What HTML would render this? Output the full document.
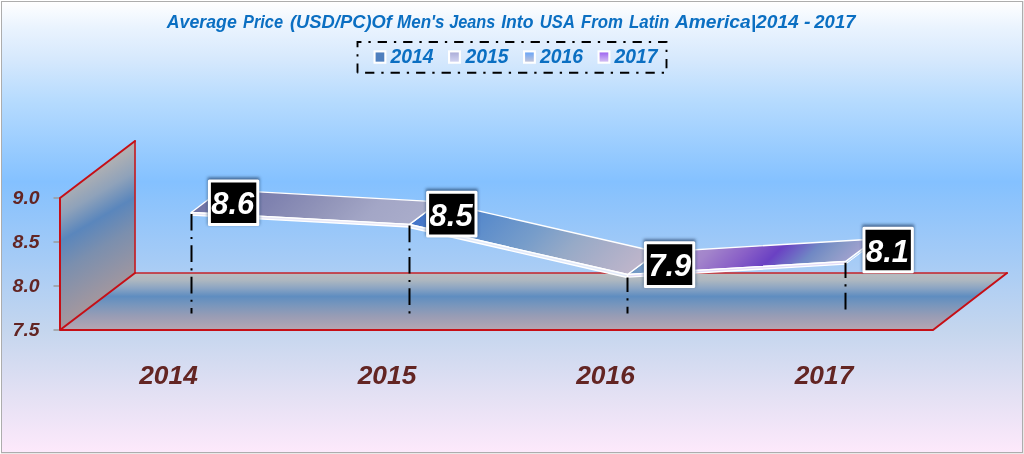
<!DOCTYPE html>
<html>
<head>
<meta charset="utf-8">
<title>Average Price (USD/PC) Of Men's Jeans Into USA From Latin America | 2014 - 2017</title>
<style>
  html, body { margin: 0; padding: 0; background: #ffffff; }
  body { width: 1024px; height: 454px; overflow: hidden; font-family: "Liberation Sans", sans-serif; }
  svg { display: block; }
  text { font-family: "Liberation Sans", sans-serif; font-weight: bold; font-style: italic; opacity: 0.999; }
</style>
</head>
<body>
<svg width="1024" height="454" viewBox="0 0 1024 454">
  <defs>
    <linearGradient id="bg" x1="0" y1="0" x2="0" y2="1">
      <stop offset="0" stop-color="#ffffff"/>
      <stop offset="0.06" stop-color="#e9f3fe"/>
      <stop offset="0.125" stop-color="#d7e9fd"/>
      <stop offset="0.22" stop-color="#b6dbfe"/>
      <stop offset="0.40" stop-color="#84c1ff"/>
      <stop offset="0.44" stop-color="#8cc3fc"/>
      <stop offset="0.57" stop-color="#a5cbf6"/>
      <stop offset="0.73" stop-color="#c5d6ee"/>
      <stop offset="0.88" stop-color="#e5e1f4"/>
      <stop offset="1" stop-color="#fde9fb"/>
    </linearGradient>
    <linearGradient id="floor" x1="0" y1="273" x2="0" y2="330" gradientUnits="userSpaceOnUse">
      <stop offset="0" stop-color="#babdc0"/>
      <stop offset="0.13" stop-color="#adb7c0"/>
      <stop offset="0.27" stop-color="#8aa4c3"/>
      <stop offset="0.41" stop-color="#5f8dc0"/>
      <stop offset="0.56" stop-color="#7896bc"/>
      <stop offset="0.75" stop-color="#979cb5"/>
      <stop offset="1" stop-color="#b6a6b2"/>
    </linearGradient>
    <linearGradient id="wall" x1="46.7" y1="149" x2="148.3" y2="322" gradientUnits="userSpaceOnUse">
      <stop offset="0" stop-color="#b1b1b3"/>
      <stop offset="0.21" stop-color="#afb0b3"/>
      <stop offset="0.32" stop-color="#8fa2ba"/>
      <stop offset="0.43" stop-color="#5a86bc"/>
      <stop offset="0.56" stop-color="#7b8fae"/>
      <stop offset="0.78" stop-color="#a2979f"/>
      <stop offset="1" stop-color="#b4a3a8"/>
    </linearGradient>
    <linearGradient id="r1" x1="191" y1="212" x2="310.5" y2="331.5" gradientUnits="userSpaceOnUse">
      <stop offset="0" stop-color="#7073a5"/>
      <stop offset="0.3" stop-color="#8083b0"/>
      <stop offset="0.55" stop-color="#9396ba"/>
      <stop offset="0.75" stop-color="#a3a6c6"/>
      <stop offset="1" stop-color="#aaadcb"/>
    </linearGradient>
    <linearGradient id="r2" x1="410" y1="224" x2="547.5" y2="361.5" gradientUnits="userSpaceOnUse">
      <stop offset="0" stop-color="#4273c8"/>
      <stop offset="0.26" stop-color="#5b8ccb"/>
      <stop offset="0.49" stop-color="#779dca"/>
      <stop offset="0.67" stop-color="#97aac7"/>
      <stop offset="0.80" stop-color="#a8aec8"/>
      <stop offset="1" stop-color="#c0b6cb"/>
    </linearGradient>
    <linearGradient id="r3" x1="627" y1="274.5" x2="733.25" y2="380.75" gradientUnits="userSpaceOnUse">
      <stop offset="0" stop-color="#6f96c3"/>
      <stop offset="0.07" stop-color="#7b9ec9"/>
      <stop offset="0.16" stop-color="#a98fcc"/>
      <stop offset="0.275" stop-color="#a385cb"/>
      <stop offset="0.45" stop-color="#8a60c7"/>
      <stop offset="0.60" stop-color="#6a41c3"/>
      <stop offset="0.68" stop-color="#6d62c4"/>
      <stop offset="0.77" stop-color="#7088c4"/>
      <stop offset="0.86" stop-color="#8497c6"/>
      <stop offset="1" stop-color="#a5a3d0"/>
    </linearGradient>
    <linearGradient id="lg2" x1="0" y1="0" x2="0" y2="1">
      <stop offset="0" stop-color="#a9aad6"/>
      <stop offset="1" stop-color="#d5d7f3"/>
    </linearGradient>
    <linearGradient id="lg3" x1="0" y1="0" x2="0" y2="1">
      <stop offset="0" stop-color="#62a3fb"/>
      <stop offset="1" stop-color="#c9c6d6"/>
    </linearGradient>
    <linearGradient id="lg4" x1="0" y1="0" x2="0" y2="1">
      <stop offset="0" stop-color="#9a5cf0"/>
      <stop offset="1" stop-color="#d9c9f3"/>
    </linearGradient>
    <filter id="glow" x="-20%" y="-20%" width="140%" height="140%">
      <feGaussianBlur stdDeviation="1.6"/>
    </filter>
  </defs>

  <!-- chart area background + border -->
  <rect x="0" y="0" width="1024" height="454" fill="#ffffff"/>
  <rect x="1023" y="1" width="1" height="453" fill="#e9e9e9"/>
  <rect x="1" y="453" width="1023" height="1" fill="#e9e9e9"/>
  <rect x="1.5" y="1.5" width="1021" height="451" fill="url(#bg)" stroke="#adadad" stroke-width="1"/>

  <!-- title -->
  <g id="title" font-size="18.3" fill="#0b6fc2">
    <text x="166.8" y="27.6" textLength="70" lengthAdjust="spacingAndGlyphs">Average</text>
    <text x="243" y="27.6" textLength="40" lengthAdjust="spacingAndGlyphs">Price</text>
    <text x="289.9" y="27.6" textLength="102.1" lengthAdjust="spacingAndGlyphs">(USD/PC)Of</text>
    <text x="397" y="27.6" textLength="47.6" lengthAdjust="spacingAndGlyphs">Men's</text>
    <text x="449.2" y="27.6" textLength="46.2" lengthAdjust="spacingAndGlyphs">Jeans</text>
    <text x="501.2" y="27.6" textLength="32.3" lengthAdjust="spacingAndGlyphs">Into</text>
    <text x="539.8" y="27.6" textLength="35.1" lengthAdjust="spacingAndGlyphs">USA</text>
    <text x="581" y="27.6" textLength="42" lengthAdjust="spacingAndGlyphs">From</text>
    <text x="628.9" y="27.6" textLength="40.4" lengthAdjust="spacingAndGlyphs">Latin</text>
    <text x="674.9" y="27.6" textLength="123.9" lengthAdjust="spacingAndGlyphs">America|2014</text>
    <text x="804" y="27.6" textLength="6.5" lengthAdjust="spacingAndGlyphs">-</text>
    <text x="814.3" y="27.6" textLength="41.2" lengthAdjust="spacingAndGlyphs">2017</text>
  </g>

  <!-- legend -->
  <path d="M357.5,72.8 L357.5,42 L666.5,42 L666.5,72.8 L357.5,72.8" fill="none" stroke="#000" stroke-width="1.9" stroke-dasharray="9.27 6.95 2.32 6.95"/>
  <g>
    <rect x="374.55" y="51.4" width="10.8" height="11.3" fill="#4f7fbe" stroke="#fff" stroke-width="2.1"/>
    <text x="390.5" y="62.9" font-size="19.4" fill="#0b6fc2" textLength="43" lengthAdjust="spacingAndGlyphs">2014</text>
    <rect x="449.05" y="51.4" width="10.8" height="11.3" fill="url(#lg2)" stroke="#fff" stroke-width="2.1"/>
    <text x="465.5" y="62.9" font-size="19.4" fill="#0b6fc2" textLength="43" lengthAdjust="spacingAndGlyphs">2015</text>
    <rect x="524.05" y="51.4" width="10.8" height="11.3" fill="url(#lg3)" stroke="#fff" stroke-width="2.1"/>
    <text x="540" y="62.9" font-size="19.4" fill="#0b6fc2" textLength="43" lengthAdjust="spacingAndGlyphs">2016</text>
    <rect x="598.55" y="51.4" width="10.8" height="11.3" fill="url(#lg4)" stroke="#fff" stroke-width="2.1"/>
    <text x="614.5" y="62.9" font-size="19.4" fill="#0b6fc2" textLength="43" lengthAdjust="spacingAndGlyphs">2017</text>
  </g>

  <!-- y axis ticks and labels -->
  <g stroke="#9a9a9a" stroke-width="1.5">
    <line x1="53.5" y1="198" x2="60" y2="198"/>
    <line x1="53.5" y1="242" x2="60" y2="242"/>
    <line x1="53.5" y1="286" x2="60" y2="286"/>
    <line x1="53.5" y1="330" x2="60" y2="330"/>
  </g>
  <g font-size="18.6" fill="#632523">
    <text x="12.6" y="203.9" textLength="27" lengthAdjust="spacingAndGlyphs">9.0</text>
    <text x="12.6" y="247.9" textLength="27" lengthAdjust="spacingAndGlyphs">8.5</text>
    <text x="12.6" y="291.9" textLength="27" lengthAdjust="spacingAndGlyphs">8.0</text>
    <text x="12.6" y="335.9" textLength="27" lengthAdjust="spacingAndGlyphs">7.5</text>
  </g>

  <!-- side wall and floor -->
  <polygon points="60,198 135,141 135,273 60,330" fill="url(#wall)"/>
  <polygon points="60,330 135,273 1007,273 933,330" fill="url(#floor)"/>
  <g fill="none" stroke-linejoin="round" stroke-linecap="round">
    <path d="M135,141 L135,273 L1007,273" stroke="#c32228" stroke-width="1.7"/>
    <path d="M135,141 L60,198 L60,330 L135,273 M60,330 L933,330 L1007,273" stroke="#c60f16" stroke-width="2"/>
  </g>


  <!-- ribbons -->
  <g stroke="#ffffff" stroke-width="1.35" stroke-linejoin="round">
    <!-- ribbon 3 : 2016 -> 2017 -->
    <polygon points="845.5,261.5 875.5,239 875.5,241.6 845.5,264.1" fill="#ffffff" fill-opacity="0.3" stroke-width="1"/>
    <polygon points="627.5,274.5 657.5,252 875.5,239 845.5,261.5" fill="url(#r3)"/>
    <polygon points="627.5,274.5 845.5,261.5 845.5,264.1 627.5,277.1" fill="#e4dcf8"/>
    <!-- ribbon 2 : 2015 -> 2016 -->
    <polygon points="409.5,224.5 439.5,202 657.5,252 627.5,274.5" fill="url(#r2)"/>
    <polygon points="409.5,224.5 627.5,274.5 627.5,277.5 409.5,227.5" fill="#e2eafa"/>
    <!-- ribbon 1 : 2014 -> 2015 -->
    <polygon points="191.2,212.5 221.2,189.8 439.5,201.8 409.5,224.3" fill="url(#r1)"/>
    <polygon points="191.2,212.5 409.5,224.3 409.5,227 191.2,215.2" fill="#e8e8f7"/>
  </g>

  <!-- drop lines -->
  <g stroke="#000" stroke-width="2" stroke-dasharray="16.7 6.3 2.1 6.3">
    <line x1="191.5" y1="213.9" x2="191.5" y2="313.5"/>
    <line x1="409.5" y1="225.5" x2="409.5" y2="313.5"/>
    <line x1="627.5" y1="277.5" x2="627.5" y2="313.5" stroke-dashoffset="2.2"/>
    <line x1="845.5" y1="262.8" x2="845.5" y2="313.5" stroke-dashoffset="1.5"/>
  </g>

  <!-- data labels -->
  <g fill="#27446a" opacity="0.72" filter="url(#glow)">
    <rect x="207.60" y="177.40" width="51.9" height="47.5"/>
    <rect x="425.85" y="188.70" width="51.9" height="47.5"/>
    <rect x="643.60" y="239.25" width="51.9" height="47.5"/>
    <rect x="862.20" y="224.55" width="51.9" height="47.5"/>
  </g>
  <g fill="#000" stroke="#fff" stroke-width="3" stroke-linejoin="round">
    <rect x="209.4" y="181" width="48.4" height="43.6"/>
    <rect x="427.6" y="192.3" width="48.4" height="43.6"/>
    <rect x="645.35" y="242.85" width="48.4" height="43.6"/>
    <rect x="863.95" y="228.15" width="48.4" height="43.6"/>
  </g>
  <g font-size="31" fill="#fff">
    <text x="211.2" y="214.3" textLength="43" lengthAdjust="spacingAndGlyphs">8.6</text>
    <text x="429.6" y="225.6" textLength="43" lengthAdjust="spacingAndGlyphs">8.5</text>
    <text x="648.3" y="276.2" textLength="43" lengthAdjust="spacingAndGlyphs">7.9</text>
    <text x="866" y="262" textLength="43" lengthAdjust="spacingAndGlyphs">8.1</text>
  </g>

  <!-- x axis labels -->
  <g font-size="25.6" fill="#632523">
    <text x="139.2" y="384.3" textLength="58.6" lengthAdjust="spacingAndGlyphs">2014</text>
    <text x="357.7" y="384.3" textLength="58.6" lengthAdjust="spacingAndGlyphs">2015</text>
    <text x="576.2" y="384.3" textLength="58.6" lengthAdjust="spacingAndGlyphs">2016</text>
    <text x="794.7" y="384.3" textLength="58.6" lengthAdjust="spacingAndGlyphs">2017</text>
  </g>
</svg>
</body>
</html>
